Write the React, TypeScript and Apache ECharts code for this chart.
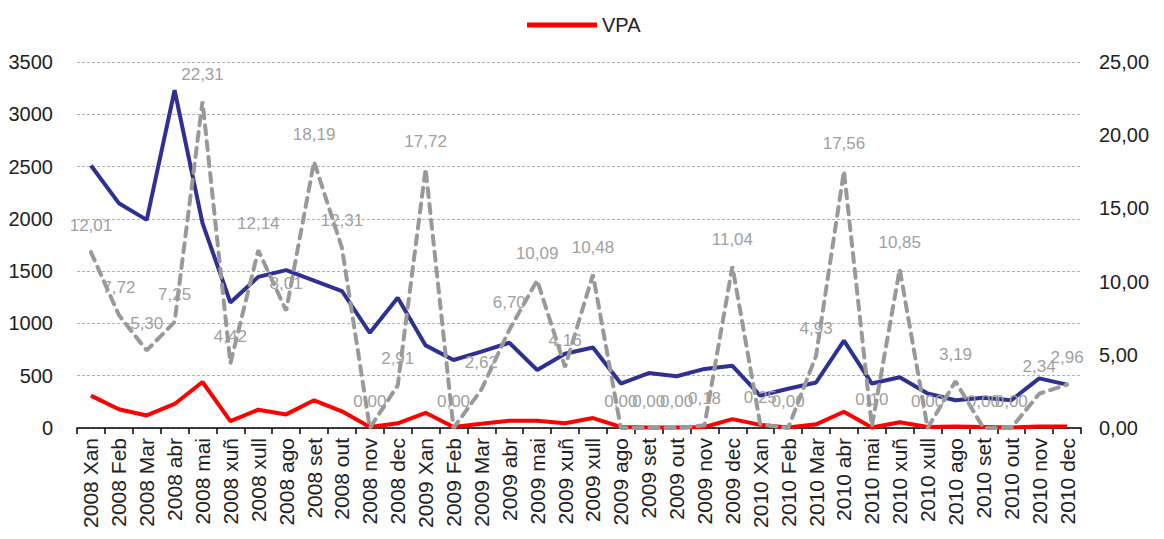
import React, { useEffect, useRef } from "react";
import * as echarts from "echarts";

const categories = [
  "2008 Xan", "2008 Feb", "2008 Mar", "2008 abr", "2008 mai", "2008 xuñ", "2008 xull", "2008 ago", "2008 set", "2008 out", "2008 nov", "2008 dec",
  "2009 Xan", "2009 Feb", "2009 Mar", "2009 abr", "2009 mai", "2009 xuñ", "2009 xull", "2009 ago", "2009 set", "2009 out", "2009 nov", "2009 dec",
  "2010 Xan", "2010 Feb", "2010 Mar", "2010 abr", "2010 mai", "2010 xuñ", "2010 xull", "2010 ago", "2010 set", "2010 out", "2010 nov", "2010 dec",
];

const blueValues = [
  2510, 2150, 1990, 3230, 1960, 1200, 1445, 1510, 1410, 1310, 910, 1245,
  790, 650, 730, 815, 555, 710, 770, 425, 525, 495, 565, 595,
  310, 375, 435, 835, 425, 485, 330, 265, 290, 265, 475, 415,
];

const vpaValues = [
  310, 180, 120, 230, 440, 65, 175, 130, 265, 160, 10, 45,
  145, 10, 40, 70, 70, 45, 95, 10, 5, 5, 10, 85,
  30, 5, 35, 155, 5, 55, 10, 15, 10, 5, 15, 15,
];

const ratioValues = [
  12.01, 7.72, 5.3, 7.25, 22.31, 4.42, 12.14, 8.01, 18.19, 12.31, 0.0, 2.91,
  17.72, 0.0, 2.62, 6.7, 10.09, 4.16, 10.48, 0.0, 0.0, 0.0, 0.18, 11.04,
  0.25, 0.0, 4.93, 17.56, 0.1, 10.85, 0.0, 3.19, 0.0, 0.0, 2.34, 2.96,
];

const fmt = (v: number) => v.toFixed(2).replace(".", ",");

export default function App() {
  const ref = useRef<HTMLDivElement>(null);
  useEffect(() => {
    if (!ref.current) return;
    const chart = echarts.init(ref.current, null, { renderer: "svg" });
    const font = "Liberation Sans, Arial, sans-serif";
    chart.setOption({
      animation: false,
      backgroundColor: "#ffffff",
      textStyle: { fontFamily: font },
      legend: {
        data: ["VPA"],
        left: 522,
        top: 10,
        icon: "rect",
        itemWidth: 70,
        itemHeight: 5,
        textStyle: { fontSize: 20, color: "#222", fontFamily: font },
      },
      grid: { left: 77, right: 83, top: 62, bottom: 111 },
      xAxis: {
        type: "category",
        data: categories,
        boundaryGap: true,
        axisLine: { lineStyle: { color: "#000", width: 1.5 } },
        axisTick: { show: true, length: 6, lineStyle: { color: "#000", width: 1.5 } },
        axisLabel: { rotate: 90, fontSize: 21, color: "#222", margin: 10, interval: 0, fontFamily: font },
      },
      yAxis: [
        {
          type: "value",
          min: 0,
          max: 3500,
          interval: 500,
          axisLine: { show: false },
          axisTick: { show: false },
          axisLabel: { fontSize: 20, color: "#222", margin: 24, fontFamily: font, formatter: (v: number) => String(v) },
          splitLine: { lineStyle: { color: "#b0b0b0", type: [3, 2], width: 1 } },
        },
        {
          type: "value",
          min: 0,
          max: 25,
          interval: 5,
          position: "right",
          axisLine: { show: false },
          axisTick: { show: false },
          splitLine: { show: false },
          axisLabel: { fontSize: 20, color: "#222", margin: 18, fontFamily: font, formatter: (v: number) => fmt(v) },
        },
      ],
      series: [
        {
          name: "Total",
          type: "line",
          data: blueValues,
          yAxisIndex: 0,
          symbol: "none",
          lineStyle: { color: "#2e3192", width: 4 },
          itemStyle: { color: "#2e3192" },
          z: 2,
        },
        {
          name: "VPA",
          type: "line",
          data: vpaValues,
          yAxisIndex: 0,
          symbol: "none",
          lineStyle: { color: "#ff0000", width: 4 },
          itemStyle: { color: "#ff0000" },
          z: 3,
        },
        {
          name: "Ratio",
          type: "line",
          data: ratioValues,
          yAxisIndex: 1,
          symbol: "circle",
          symbolSize: 1,
          showSymbol: true,
          itemStyle: { color: "rgba(0,0,0,0)" },
          lineStyle: { color: "#999999", width: 4, type: [9, 7], cap: "round" },
          label: {
            show: true,
            position: "top",
            distance: 18,
            fontSize: 17,
            color: "#a0a0a0",
            fontFamily: font,
            formatter: (p: any) => fmt(p.value),
          },
          labelLayout: { hideOverlap: false },
          z: 4,
        },
      ],
    });
    return () => chart.dispose();
  }, []);
  return (
    <div
      ref={ref}
      style={{ position: "fixed", left: 0, top: 0, width: 1164, height: 539 }}
    />
  );
}
